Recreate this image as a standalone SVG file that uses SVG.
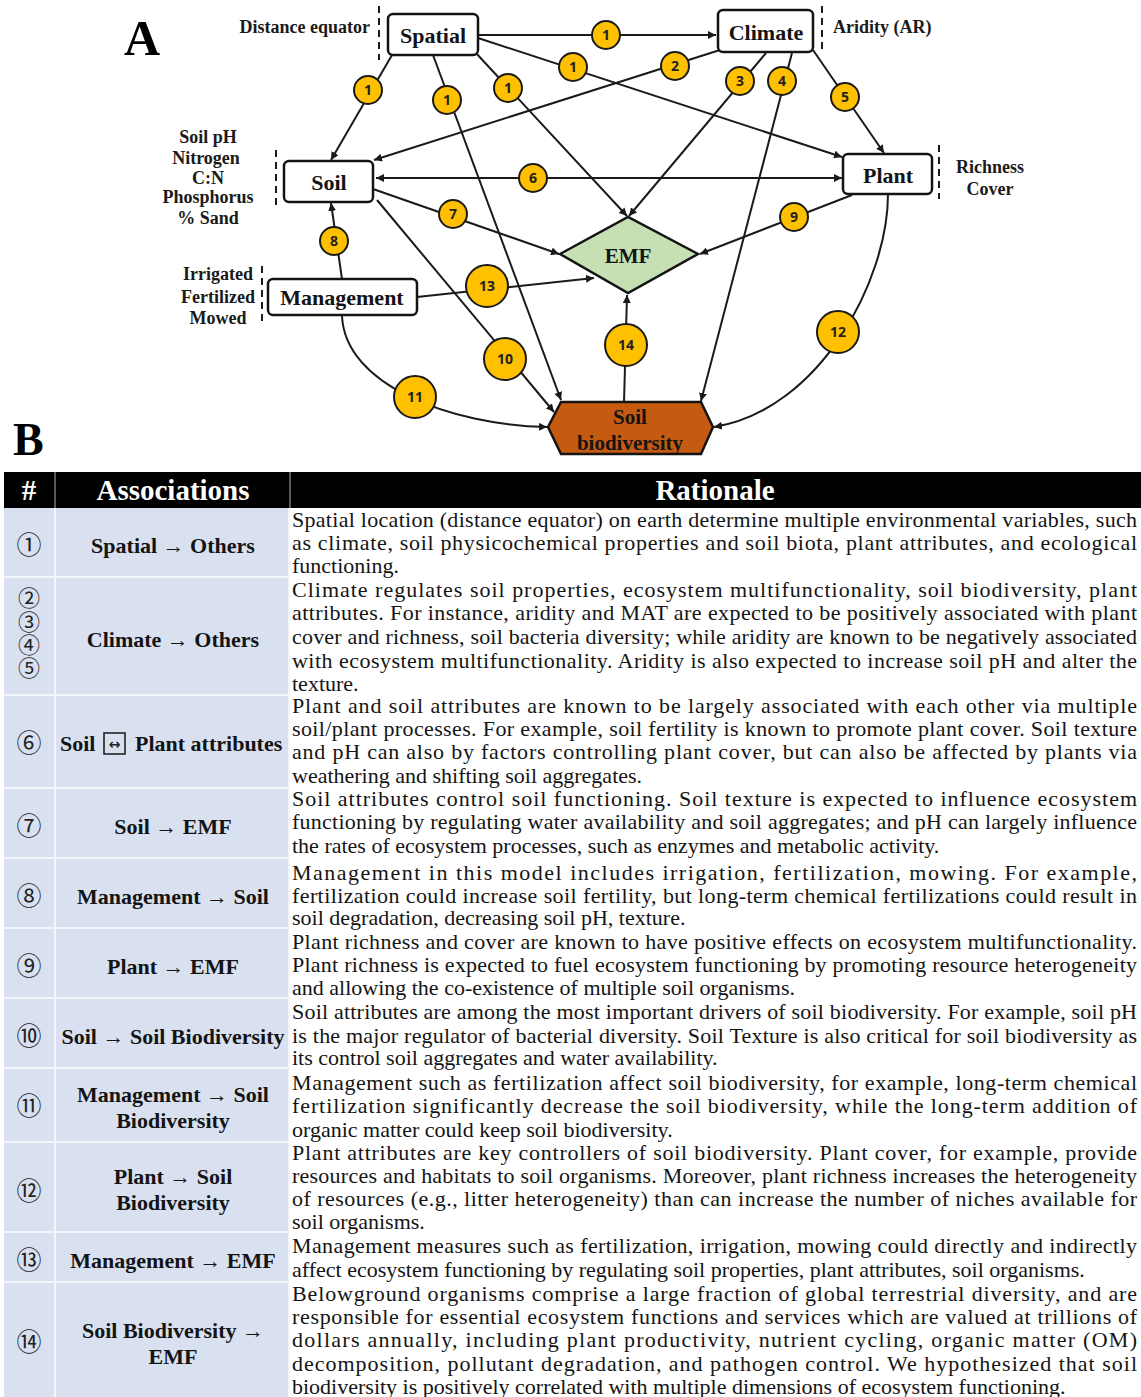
<svg xmlns="http://www.w3.org/2000/svg" width="1141" height="1397" viewBox="0 0 1141 1397">
<style>
.bg{fill:#fff}
.box{fill:#fff;stroke:#141414;stroke-width:2.5}
.nt{font-family:"Liberation Serif","Times New Roman",serif;font-weight:bold;fill:#141414;text-anchor:middle}
.side{font-family:"Liberation Serif","Times New Roman",serif;font-weight:bold;font-size:18px;fill:#1a1a1a}
.mid{text-anchor:middle}
.end{text-anchor:end}
.dash{stroke:#1a1a1a;stroke-width:2;stroke-dasharray:7,5;fill:none}
.edge{stroke:#1a1a1a;stroke-width:2;fill:none;marker-end:url(#ah)}
.lc{fill:#ffc000;stroke:#1a1a1a;stroke-width:2}
.ln{font-family:"Open Sans","Noto Sans",sans-serif;font-weight:bold;fill:#222;text-anchor:middle}
.big{font-family:"Liberation Serif","Times New Roman",serif;font-weight:bold;fill:#000}
.hd{font-family:"Liberation Serif","Times New Roman",serif;font-weight:bold;font-size:29px;fill:#fff;text-anchor:middle}
.cell{fill:#d9e1f1}
.sep{stroke:#f2f5fb;stroke-width:2}
.num{font-family:"Noto Sans CJK SC","DejaVu Sans",sans-serif;font-size:25px;fill:#222;text-anchor:middle}
.nums{font-family:"Noto Sans CJK SC","DejaVu Sans",sans-serif;font-size:22px;fill:#222;text-anchor:middle}
.as{font-family:"Liberation Serif","Times New Roman",serif;font-weight:bold;font-size:22px;fill:#141414;text-anchor:middle}
.ass{font-family:"Liberation Serif","Times New Roman",serif;font-weight:bold;font-size:22px;fill:#141414;text-anchor:start}
.rt{font-family:"Liberation Serif","Times New Roman",serif;font-size:22px;fill:#141414}
</style>
<defs>
<marker id="ah" viewBox="0 0 10 10" refX="10" refY="5" markerWidth="4" markerHeight="4" orient="auto" markerUnits="strokeWidth">
<path d="M0,0 L10,5 L0,10 z" fill="#1a1a1a"/>
</marker>
<marker id="ahs" viewBox="0 0 10 10" refX="0" refY="5" markerWidth="4" markerHeight="4" orient="auto" markerUnits="strokeWidth">
<path d="M10,0 L0,5 L10,10 z" fill="#1a1a1a"/>
</marker>
<clipPath id="hexclip"><rect x="540" y="395" width="185" height="60"/></clipPath>
</defs>
<rect class="bg" x="0" y="0" width="1141" height="1397"/>

<text class="big" x="124" y="55" font-size="50">A</text>
<text class="big" x="13" y="455" font-size="46">B</text>

<g id="connectors">
<path class="edge" d="M478,35 L716,35"/>
<path class="edge" d="M478,38 L842,157"/>
<path class="edge" d="M392,55 L331,160"/>
<path class="edge" d="M433,55 L561,400"/>
<path class="edge" d="M475,52 L627,216"/>
<path class="edge" d="M720,50 L374,160"/>
<path class="edge" d="M766,53 L629,216"/>
<path class="edge" d="M792,53 L701,401"/>
<path class="edge" d="M813,50 L884,153"/>
<path class="edge" d="M376,178 L842,178" marker-start="url(#ahs)"/>
<path class="edge" d="M373,189 L559,254"/>
<path class="edge" d="M377,200 L554,412"/>
<path class="edge" d="M342,279 L331,203"/>
<path class="edge" d="M417,297 L594,278"/>
<path class="edge" d="M342,316 C345,385 450,425 547,427"/>
<path class="edge" d="M624,402 L627,295"/>
<path class="edge" d="M852,195 L700,254"/>
<path class="edge" d="M888,194 C888,280 820,410 714,427"/>
</g>

<g id="edge-labels">
<circle class="lc" cx="606" cy="35" r="14"/><text class="ln" x="606" y="40" font-size="14">1</text>
<circle class="lc" cx="573" cy="67" r="14"/><text class="ln" x="573" y="72" font-size="14">1</text>
<circle class="lc" cx="368" cy="90" r="14"/><text class="ln" x="368" y="95" font-size="14">1</text>
<circle class="lc" cx="447" cy="100" r="14"/><text class="ln" x="447" y="105" font-size="14">1</text>
<circle class="lc" cx="508" cy="88" r="14"/><text class="ln" x="508" y="93" font-size="14">1</text>
<circle class="lc" cx="675" cy="66" r="14"/><text class="ln" x="675" y="71" font-size="14">2</text>
<circle class="lc" cx="740" cy="81" r="14"/><text class="ln" x="740" y="86" font-size="14">3</text>
<circle class="lc" cx="782" cy="81" r="14"/><text class="ln" x="782" y="86" font-size="14">4</text>
<circle class="lc" cx="845" cy="97" r="14"/><text class="ln" x="845" y="102" font-size="14">5</text>
<circle class="lc" cx="533" cy="178" r="14"/><text class="ln" x="533" y="183" font-size="14">6</text>
<circle class="lc" cx="453" cy="214" r="14"/><text class="ln" x="453" y="219" font-size="14">7</text>
<circle class="lc" cx="334" cy="241" r="14"/><text class="ln" x="334" y="246" font-size="14">8</text>
<circle class="lc" cx="794" cy="217" r="14"/><text class="ln" x="794" y="222" font-size="14">9</text>
<circle class="lc" cx="505" cy="359" r="21"/><text class="ln" x="505" y="364" font-size="14">10</text>
<circle class="lc" cx="415" cy="397" r="21"/><text class="ln" x="415" y="402" font-size="14">11</text>
<circle class="lc" cx="838" cy="332" r="21"/><text class="ln" x="838" y="337" font-size="14">12</text>
<circle class="lc" cx="487" cy="286" r="21"/><text class="ln" x="487" y="291" font-size="14">13</text>
<circle class="lc" cx="626" cy="345" r="21"/><text class="ln" x="626" y="350" font-size="14">14</text>
</g>

<g id="node-spatial">
<rect class="box" x="388" y="14" width="90" height="41" rx="5"/>
<text class="nt" x="433" y="43" font-size="22">Spatial</text>
<line class="dash" x1="379" y1="6" x2="379" y2="60"/>
<text class="side end" x="370" y="33">Distance equator</text>
</g>

<g id="node-climate">
<rect class="box" x="718" y="10" width="95" height="42" rx="5"/>
<text class="nt" x="766" y="40" font-size="22">Climate</text>
<line class="dash" x1="822" y1="6" x2="822" y2="52"/>
<text class="side" x="833" y="33">Aridity (AR)</text>
</g>

<g id="node-soil">
<rect class="box" x="284" y="161" width="89" height="41" rx="5"/>
<text class="nt" x="329" y="190" font-size="22">Soil</text>
<line class="dash" x1="276" y1="150" x2="276" y2="206"/>
<text class="side mid" x="208" y="143">Soil pH</text>
<text class="side mid" x="206" y="164">Nitrogen</text>
<text class="side mid" x="208" y="184">C:N</text>
<text class="side mid" x="208" y="203">Phosphorus</text>
<text class="side mid" x="208" y="224">% Sand</text>
</g>

<g id="node-plant">
<rect class="box" x="843" y="154" width="89" height="40" rx="5"/>
<text class="nt" x="888" y="183" font-size="22">Plant</text>
<line class="dash" x1="939" y1="145" x2="939" y2="199"/>
<text class="side mid" x="990" y="173">Richness</text>
<text class="side mid" x="990" y="195">Cover</text>
</g>

<g id="node-management">
<rect class="box" x="268" y="279" width="149" height="36" rx="5"/>
<text class="nt" x="342" y="305" font-size="22">Management</text>
<line class="dash" x1="262" y1="266" x2="262" y2="322"/>
<text class="side mid" x="218" y="280">Irrigated</text>
<text class="side mid" x="218" y="303">Fertilized</text>
<text class="side mid" x="218" y="324">Mowed</text>
</g>

<g id="node-emf">
<polygon points="560,254 628,217 698,254 628,293" fill="#c6e0b4" stroke="#141414" stroke-width="2.5"/>
<text class="nt" x="628" y="263" font-size="21">EMF</text>
</g>

<g id="node-soilbio">
<polygon points="548,427 561,402 701,402 713,427 701,454 561,454" fill="#c55a11"/>
<g clip-path="url(#hexclip)">
<text class="nt" x="630" y="424" font-size="21" fill="#2b1505">Soil</text>
<text class="nt" x="630" y="450" font-size="21" fill="#2b1505">biodiversity</text>
</g>
<polygon points="548,427 561,402 701,402 713,427 701,454 561,454" fill="none" stroke="#141414" stroke-width="2.5"/>
</g>

<g id="table">
<rect x="4" y="472" width="1137" height="36" fill="#000"/>
<line x1="55" y1="472" x2="55" y2="508" stroke="#777" stroke-width="1.5"/>
<line x1="290" y1="472" x2="290" y2="508" stroke="#777" stroke-width="1.5"/>
<text class="hd" x="29" y="500">#</text>
<text class="hd" x="173" y="500">Associations</text>
<text class="hd" x="715" y="500">Rationale</text>

<rect class="cell" x="4" y="508" width="286" height="889"/>
<line class="sep" x1="55" y1="508" x2="55" y2="1397"/>
<line class="sep" x1="289" y1="508" x2="289" y2="1397"/>
<line class="sep" x1="4" y1="577" x2="290" y2="577"/>
<line class="sep" x1="4" y1="695" x2="290" y2="695"/>
<line class="sep" x1="4" y1="788" x2="290" y2="788"/>
<line class="sep" x1="4" y1="858" x2="290" y2="858"/>
<line class="sep" x1="4" y1="928" x2="290" y2="928"/>
<line class="sep" x1="4" y1="998" x2="290" y2="998"/>
<line class="sep" x1="4" y1="1068" x2="290" y2="1068"/>
<line class="sep" x1="4" y1="1142" x2="290" y2="1142"/>
<line class="sep" x1="4" y1="1232" x2="290" y2="1232"/>
<line class="sep" x1="4" y1="1282" x2="290" y2="1282"/>

<text class="num" x="29" y="554">①</text>
<text class="nums" x="29" y="606">②</text>
<text class="nums" x="29" y="630">③</text>
<text class="nums" x="29" y="653">④</text>
<text class="nums" x="29" y="676">⑤</text>
<text class="num" x="29" y="752">⑥</text>
<text class="num" x="29" y="835">⑦</text>
<text class="num" x="29" y="905">⑧</text>
<text class="num" x="29" y="975">⑨</text>
<text class="num" x="29" y="1045">⑩</text>
<text class="num" x="29" y="1115">⑪</text>
<text class="num" x="29" y="1200">⑫</text>
<text class="num" x="29" y="1269">⑬</text>
<text class="num" x="29" y="1351">⑭</text>

<text class="as" x="173" y="553">Spatial → Others</text>
<text class="as" x="173" y="647">Climate → Others</text>
<text class="ass" x="60" y="751">Soil</text>
<rect x="104" y="733" width="21" height="21" fill="none" stroke="#222" stroke-width="1.6"/>
<text x="114.5" y="749" font-family="DejaVu Sans,sans-serif" font-size="14" font-weight="bold" fill="#222" text-anchor="middle">↔</text>
<text class="ass" x="135" y="751">Plant attributes</text>
<text class="as" x="173" y="834">Soil → EMF</text>
<text class="as" x="173" y="904">Management → Soil</text>
<text class="as" x="173" y="974">Plant → EMF</text>
<text class="as" x="173" y="1044">Soil → Soil Biodiversity</text>
<text class="as" x="173" y="1102">Management → Soil</text>
<text class="as" x="173" y="1128">Biodiversity</text>
<text class="as" x="173" y="1184">Plant → Soil</text>
<text class="as" x="173" y="1210">Biodiversity</text>
<text class="as" x="173" y="1268">Management → EMF</text>
<text class="as" x="173" y="1338">Soil Biodiversity →</text>
<text class="as" x="173" y="1364">EMF</text>

<g class="rt">
<text x="292" y="527" textLength="845" lengthAdjust="spacing">Spatial location (distance equator) on earth determine multiple environmental variables, such</text>
<text x="292" y="550" textLength="845" lengthAdjust="spacing">as climate, soil physicochemical properties and soil biota, plant attributes, and ecological</text>
<text x="292" y="573">functioning.</text>

<text x="292" y="597" textLength="845" lengthAdjust="spacing">Climate regulates soil properties, ecosystem multifunctionality, soil biodiversity, plant</text>
<text x="292" y="620" textLength="845" lengthAdjust="spacing">attributes. For instance, aridity and MAT are expected to be positively associated with plant</text>
<text x="292" y="644" textLength="845" lengthAdjust="spacing">cover and richness, soil bacteria diversity; while aridity are known to be negatively associated</text>
<text x="292" y="668" textLength="845" lengthAdjust="spacing">with ecosystem multifunctionality. Aridity is also expected to increase soil pH and alter the</text>
<text x="292" y="691">texture.</text>

<text x="292" y="713" textLength="845" lengthAdjust="spacing">Plant and soil attributes are known to be largely associated with each other via multiple</text>
<text x="292" y="736" textLength="845" lengthAdjust="spacing">soil/plant processes. For example, soil fertility is known to promote plant cover. Soil texture</text>
<text x="292" y="759" textLength="845" lengthAdjust="spacing">and pH can also by factors controlling plant cover, but can also be affected by plants via</text>
<text x="292" y="783">weathering and shifting soil aggregates.</text>

<text x="292" y="806" textLength="845" lengthAdjust="spacing">Soil attributes control soil functioning. Soil texture is expected to influence ecosystem</text>
<text x="292" y="829" textLength="845" lengthAdjust="spacing">functioning by regulating water availability and soil aggregates; and pH can largely influence</text>
<text x="292" y="853">the rates of ecosystem processes, such as enzymes and metabolic activity.</text>

<text x="292" y="880" textLength="845" lengthAdjust="spacing">Management in this model includes irrigation, fertilization, mowing. For example,</text>
<text x="292" y="903" textLength="845" lengthAdjust="spacing">fertilization could increase soil fertility, but long-term chemical fertilizations could result in</text>
<text x="292" y="925">soil degradation, decreasing soil pH, texture.</text>

<text x="292" y="949" textLength="845" lengthAdjust="spacing">Plant richness and cover are known to have positive effects on ecosystem multifunctionality.</text>
<text x="292" y="972" textLength="845" lengthAdjust="spacing">Plant richness is expected to fuel ecosystem functioning by promoting resource heterogeneity</text>
<text x="292" y="995">and allowing the co-existence of multiple soil organisms.</text>

<text x="292" y="1019" textLength="845" lengthAdjust="spacing">Soil attributes are among the most important drivers of soil biodiversity. For example, soil pH</text>
<text x="292" y="1043" textLength="845" lengthAdjust="spacing">is the major regulator of bacterial diversity. Soil Texture is also critical for soil biodiversity as</text>
<text x="292" y="1065">its control soil aggregates and water availability.</text>

<text x="292" y="1090" textLength="845" lengthAdjust="spacing">Management such as fertilization affect soil biodiversity, for example, long-term chemical</text>
<text x="292" y="1113" textLength="845" lengthAdjust="spacing">fertilization significantly decrease the soil biodiversity, while the long-term addition of</text>
<text x="292" y="1137">organic matter could keep soil biodiversity.</text>

<text x="292" y="1160" textLength="845" lengthAdjust="spacing">Plant attributes are key controllers of soil biodiversity. Plant cover, for example, provide</text>
<text x="292" y="1183" textLength="845" lengthAdjust="spacing">resources and habitats to soil organisms. Moreover, plant richness increases the heterogeneity</text>
<text x="292" y="1206" textLength="845" lengthAdjust="spacing">of resources (e.g., litter heterogeneity) than can increase the number of niches available for</text>
<text x="292" y="1229">soil organisms.</text>

<text x="292" y="1253" textLength="845" lengthAdjust="spacing">Management measures such as fertilization, irrigation, mowing could directly and indirectly</text>
<text x="292" y="1277">affect ecosystem functioning by regulating soil properties, plant attributes, soil organisms.</text>

<text x="292" y="1301" textLength="845" lengthAdjust="spacing">Belowground organisms comprise a large fraction of global terrestrial diversity, and are</text>
<text x="292" y="1324" textLength="845" lengthAdjust="spacing">responsible for essential ecosystem functions and services which are valued at trillions of</text>
<text x="292" y="1347" textLength="845" lengthAdjust="spacing">dollars annually, including plant productivity, nutrient cycling, organic matter (OM)</text>
<text x="292" y="1371" textLength="845" lengthAdjust="spacing">decomposition, pollutant degradation, and pathogen control. We hypothesized that soil</text>
<text x="292" y="1394">biodiversity is positively correlated with multiple dimensions of ecosystem functioning.</text>
</g>
</g>
</svg>
